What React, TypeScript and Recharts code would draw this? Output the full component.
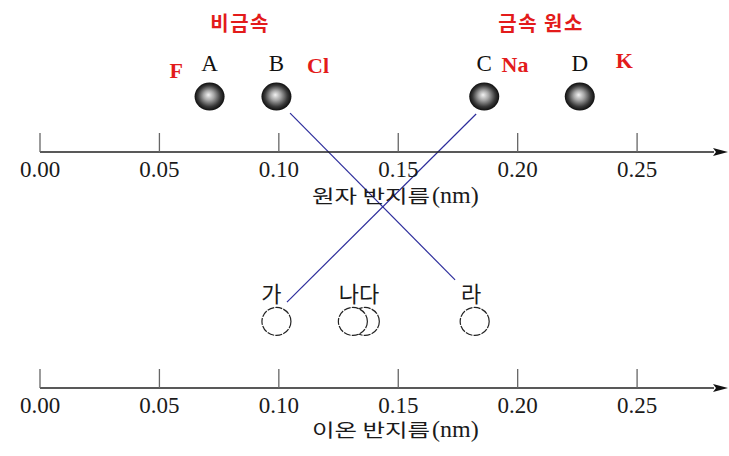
import React from 'react';
import { ScatterChart, Scatter, XAxis, YAxis, ReferenceDot, ReferenceLine } from 'recharts';

// ---------- data ----------
const TICKS = [0, 0.05, 0.1, 0.15, 0.2, 0.25];
const AXIS_MAX = 0.2822;

const ATOM_LETTERS = ['A', 'B', 'C', 'D'];
const ATOM_RADII = [0.071, 0.099, 0.186, 0.226];

const ATOM_SYMBOLS = ['F', 'Cl', 'Na', 'K'];
const SYMBOL_POS = [0.057, 0.1164, 0.1989, 0.2446];
const SYMBOL_ROWS = [1.314, 1.335, 1.339, 1.356];

const GROUP_LABELS = ['비금속', '금속 원소'];
const GROUP_POS = [0.0838, 0.2098];

const ION_NAMES = ['가', '나', '다', '라'];
const ION_RADII = [0.099, 0.131, 0.136, 0.182];

const ION_LABELS = ['가', '나다', '라'];
const ION_LABEL_POS = [0.0969, 0.1336, 0.1805];

// connecting lines (atom B -> ion 라, atom C -> ion 가)
const LINK_B = [{ x: 0.1047, y: 1.165 }, { x: 0.1738, y: 0.458 }];
const LINK_C = [{ x: 0.1826, y: 1.161 }, { x: 0.1034, y: 0.364 }];

// rows (vertical lanes, in y-axis units)
const ATOM_ROW = 1.235;
const LETTER_ROW = 1.343;
const GROUP_ROW = 1.513;
const ION_ROW = 0.282;
const ION_LABEL_ROW = 0.364;

const W = 729;
const H = 456;
const SERIF = "'Liberation Serif', 'DejaVu Serif', serif";
const KR = "'Noto Sans CJK KR', 'Noto Sans', sans-serif";
const RED = '#e31b1b';

function AxisTick(props: any) {
  const { x, y, payload } = props;
  return (
    <g>
      <line x1={x} x2={x} y1={y - 19} y2={y} stroke="#666" strokeWidth={1.3} />
      <text x={x} y={y + 25} textAnchor="middle" fontFamily={SERIF} fontSize={23} fill="#1a1a1a">
        {Number(payload.value).toFixed(2)}
      </text>
    </g>
  );
}

function AxisTitle(props: any) {
  const { viewBox, text, edge } = props;
  const vb = viewBox || { x: 40, y: 0, width: 674, height: 152 };
  const lineY = edge === 'bottom' ? vb.y + vb.height : vb.y;
  const base = lineY + (edge === 'bottom' ? 51 : 49);
  return (
    <g>
      <text x={vb.x + 272} y={base} fontFamily={KR} fontSize={18} fill="#1a1a1a"
        textLength={118} lengthAdjust="spacingAndGlyphs">{text}</text>
      <text x={vb.x + 392} y={base} fontFamily={SERIF} fontSize={24} fill="#1a1a1a">(nm)</text>
    </g>
  );
}

const BallShape = (p: any) => (
  <ellipse cx={p.cx} cy={p.cy} rx={15} ry={14} fill="url(#ballGrad)" />
);

const makeText = (txt: string, opts: any) => (p: any) => (
  <text x={p.cx} y={p.cy} textAnchor="middle" {...opts}>{txt}</text>
);

const IonShape = (p: any) => (
  <ellipse cx={p.cx} cy={p.cy} rx={14.5} ry={14} fill="#fff" stroke="#222"
    strokeWidth={1.2} strokeDasharray="7 1.2" />
);

const IonLabelShape = (p: any) => (
  <text x={p.cx} y={p.cy} textAnchor="middle" fontFamily={KR} fontSize={22} fill="#1a1a1a">
    {p.payload.label}
  </text>
);

export default function App() {
  const ionAll = ION_RADII.map((r, i) => ({ x: r, y: ION_ROW, name: ION_NAMES[i] }));
  // draw 다 beneath 나
  const ionData = [ionAll[0], ionAll[2], ionAll[1], ionAll[3]];
  const ionLabelData = ION_LABELS.map((l, i) => ({ x: ION_LABEL_POS[i], y: ION_LABEL_ROW, label: l }));

  const axisLine = { stroke: '#222', strokeWidth: 1.5, markerEnd: 'url(#axisArrow)' };

  return (
    <div style={{ position: 'absolute', left: 0, top: 0, width: W, height: H, background: '#fff' }}>
      <svg width={0} height={0} style={{ position: 'absolute' }}>
        <defs>
          <radialGradient id="ballGrad" cx="0.5" cy="0.5" r="0.5" fx="0.46" fy="0.44">
            <stop offset="0" stopColor="#f2f2f2" />
            <stop offset="0.35" stopColor="#a6a6a6" />
            <stop offset="0.75" stopColor="#3a3a3a" />
            <stop offset="1" stopColor="#0e0e0e" />
          </radialGradient>
          <marker id="axisArrow" markerUnits="userSpaceOnUse" markerWidth="16" markerHeight="10"
            refX="1" refY="5" orient="auto">
            <path d="M0,1 L15,5 L0,9 L3,5 Z" fill="#111" />
          </marker>
        </defs>
      </svg>
      <ScatterChart width={W} height={H} margin={{ top: 0, right: 15, bottom: 0, left: 40 }}>
        <XAxis xAxisId="atom" orientation="top" type="number" dataKey="x" domain={[0, AXIS_MAX]}
          allowDataOverflow ticks={TICKS} interval={0} height={152} tickSize={0} tickMargin={0}
          tickLine={false} axisLine={axisLine} tick={(p: any) => <AxisTick {...p} />}
          label={<AxisTitle text="원자 반지름" edge="bottom" />} />
        <XAxis xAxisId="ion" orientation="bottom" type="number" dataKey="x" domain={[0, AXIS_MAX]}
          allowDataOverflow ticks={TICKS} interval={0} height={68} tickSize={0} tickMargin={0}
          tickLine={false} axisLine={axisLine} tick={(p: any) => <AxisTick {...p} />}
          label={<AxisTitle text="이온 반지름" edge="top" />} />
        <YAxis hide type="number" dataKey="y" domain={[0, 1]} />

        <ReferenceLine xAxisId="atom" segment={LINK_B} stroke="#2d2d9c" strokeWidth={1.2} ifOverflow="visible" />
        <ReferenceLine xAxisId="atom" segment={LINK_C} stroke="#2d2d9c" strokeWidth={1.2} ifOverflow="visible" />

        <Scatter xAxisId="ion" data={ionData} shape={IonShape} isAnimationActive={false} />
        <Scatter xAxisId="ion" data={ionLabelData} shape={IonLabelShape} isAnimationActive={false} />

        {ATOM_RADII.map((r, i) => (
          <ReferenceDot key={'ball' + i} xAxisId="atom" x={r} y={ATOM_ROW} ifOverflow="visible" shape={BallShape} />
        ))}
        {ATOM_RADII.map((r, i) => (
          <ReferenceDot key={'let' + i} xAxisId="atom" x={r} y={LETTER_ROW} ifOverflow="visible"
            shape={makeText(ATOM_LETTERS[i], { fontFamily: SERIF, fontSize: 23, fill: '#111' })} />
        ))}
        {ATOM_SYMBOLS.map((s, i) => (
          <ReferenceDot key={'sym' + i} xAxisId="atom" x={SYMBOL_POS[i]} y={SYMBOL_ROWS[i]} ifOverflow="visible"
            shape={makeText(s, { fontFamily: SERIF, fontSize: 22, fontWeight: 700, fill: RED })} />
        ))}
        {GROUP_LABELS.map((g, i) => (
          <ReferenceDot key={'grp' + i} xAxisId="atom" x={GROUP_POS[i]} y={GROUP_ROW} ifOverflow="visible"
            shape={makeText(g, { fontFamily: KR, fontSize: 20, fontWeight: 700, fill: RED, letterSpacing: 1.5 })} />
        ))}
      </ScatterChart>
    </div>
  );
}
